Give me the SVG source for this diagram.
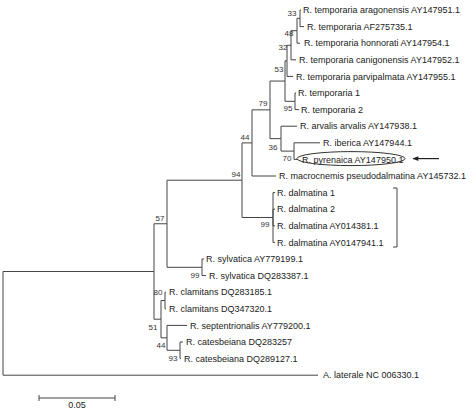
<svg xmlns="http://www.w3.org/2000/svg" width="474" height="410" viewBox="0 0 474 410">
<style>
.e{fill:none;stroke:#444;stroke-width:1}
.t{font-family:"Liberation Sans",Arial,sans-serif;font-size:9px;fill:#222}
.b{font-family:"Liberation Sans",Arial,sans-serif;font-size:8px;fill:#333;text-anchor:middle}
</style>
<defs>
<marker id="ah" viewBox="0 0 10 10" refX="9" refY="5" markerWidth="8" markerHeight="6" orient="auto" markerUnits="userSpaceOnUse">
<path d="M0 1 L10 5 L0 9 Z" fill="#222"/>
</marker>
</defs>
<rect width="474" height="410" fill="#fff"/>
<g id="connectors">
<path class="e" d="M3 323.35V271.5H154M3 323.35V375.2H318"/>
<path class="e" d="M154 271.5V223.75H167M154 271.5V319.2H161"/>
<path class="e" d="M167 223.75V180.2H242M167 223.75V267.3H202"/>
<path class="e" d="M242 180.2V142.9H252M242 180.2V217.5H273"/>
<path class="e" d="M252 142.9V109.85H270M252 142.9V176H276"/>
<path class="e" d="M270 109.85V81.05H285M270 109.85V138.65H281"/>
<path class="e" d="M285 81.05V60.8H287M285 81.05V101.3H295"/>
<path class="e" d="M287 60.8V45.25H291M287 60.8V76.4H293"/>
<path class="e" d="M291 45.25V30.7H297M291 45.25V59.8H296"/>
<path class="e" d="M297 30.7V18.3H300M297 30.7V43.2H300"/>
<path class="e" d="M300 18.3V10H301M300 18.3V26.6H304"/>
<path class="e" d="M295 101.3V93H296M295 101.3V109.6H299"/>
<path class="e" d="M281 138.65V126.2H297M281 138.65V151.1H294"/>
<path class="e" d="M294 151.1V142.8H320M294 151.1V159.4H298"/>
<path class="e" d="M273 217.5V192.6H275M273 217.5V209.2H275M273 217.5V225.8H275M273 217.5V242.4H275"/>
<path class="e" d="M202 267.3V259H204M202 267.3V275.6H206"/>
<path class="e" d="M161 319.2V300.5H165M161 319.2V337.85H167"/>
<path class="e" d="M165 300.5V292.2H166M165 300.5V308.8H166"/>
<path class="e" d="M167 337.85V325.4H187M167 337.85V350.3H180"/>
<path class="e" d="M180 350.3V342H183M180 350.3V358.6H181"/>
</g>
<g id="leaves">
<g id="n-aragonensis"><text class="t" x="303" y="13.2">R. temporaria aragonensis AY147951.1</text></g>
<g id="n-af275735"><text class="t" x="307" y="29.8">R. temporaria AF275735.1</text></g>
<g id="n-honnorati"><text class="t" x="304" y="46.4">R. temporaria honnorati AY147954.1</text></g>
<g id="n-canigonensis"><text class="t" x="299" y="63">R. temporaria canigonensis AY147952.1</text></g>
<g id="n-parvipalmata"><text class="t" x="296" y="79.6">R. temporaria parvipalmata AY147955.1</text></g>
<g id="n-temporaria1"><text class="t" x="298" y="96.2">R. temporaria 1</text></g>
<g id="n-temporaria2"><text class="t" x="301" y="112.8">R. temporaria 2</text></g>
<g id="n-arvalis"><text class="t" x="300" y="129.4">R. arvalis arvalis AY147938.1</text></g>
<g id="n-iberica"><text class="t" x="323" y="146">R. iberica AY147944.1</text></g>
<g id="n-pyrenaica"><ellipse cx="351" cy="158.6" rx="54" ry="7" fill="none" stroke="#333" stroke-width="1"/><text class="t" x="302" y="162.6">R. pyrenaica AY147950.1</text></g>
<g id="n-macrocnemis"><text class="t" x="279" y="179.2">R. macrocnemis pseudodalmatina AY145732.1</text></g>
<g id="n-dalmatina1"><text class="t" x="277" y="195.8">R. dalmatina 1</text></g>
<g id="n-dalmatina2"><text class="t" x="277" y="212.4">R. dalmatina 2</text></g>
<g id="n-dalmatina3"><text class="t" x="277" y="229">R. dalmatina AY014381.1</text></g>
<g id="n-dalmatina4"><text class="t" x="277" y="245.6">R. dalmatina AY0147941.1</text></g>
<g id="n-sylvatica1"><text class="t" x="206" y="262.2">R. sylvatica AY779199.1</text></g>
<g id="n-sylvatica2"><text class="t" x="209" y="278.8">R. sylvatica DQ283387.1</text></g>
<g id="n-clamitans1"><text class="t" x="169" y="295.4">R. clamitans DQ283185.1</text></g>
<g id="n-clamitans2"><text class="t" x="169" y="312">R. clamitans DQ347320.1</text></g>
<g id="n-septentrionalis"><text class="t" x="190" y="328.6">R. septentrionalis AY779200.1</text></g>
<g id="n-catesbeiana1"><text class="t" x="186" y="345.2">R. catesbeiana DQ283257</text></g>
<g id="n-catesbeiana2"><text class="t" x="184" y="361.8">R. catesbeiana DQ289127.1</text></g>
<g id="n-laterale"><text class="t" x="323" y="378.4">A. laterale NC 006330.1</text></g>
</g>
<g id="bootstrap">
<text class="b" x="292" y="16">33</text>
<text class="b" x="289" y="36">48</text>
<text class="b" x="283" y="50">32</text>
<text class="b" x="279" y="72">53</text>
<text class="b" x="288" y="111">95</text>
<text class="b" x="263" y="106">79</text>
<text class="b" x="273" y="150">36</text>
<text class="b" x="287" y="161">70</text>
<text class="b" x="245" y="140">44</text>
<text class="b" x="236" y="177">94</text>
<text class="b" x="265" y="227">99</text>
<text class="b" x="160" y="221">57</text>
<text class="b" x="195" y="278">99</text>
<text class="b" x="158" y="295">80</text>
<text class="b" x="153" y="330">51</text>
<text class="b" x="161" y="348">44</text>
<text class="b" x="173" y="361">93</text>
</g>
<g id="bracket"><path class="e" d="M393 188H397V247H393"/></g>
<g id="arrow"><path d="M439 158.6H413" stroke="#222" stroke-width="1.2" fill="none" marker-end="url(#ah)"/></g>
<g id="scale">
<path class="e" d="M39 398H115M39 395V401M115 395V401"/>
<text class="t" x="77" y="408" text-anchor="middle">0.05</text>
</g>
</svg>
